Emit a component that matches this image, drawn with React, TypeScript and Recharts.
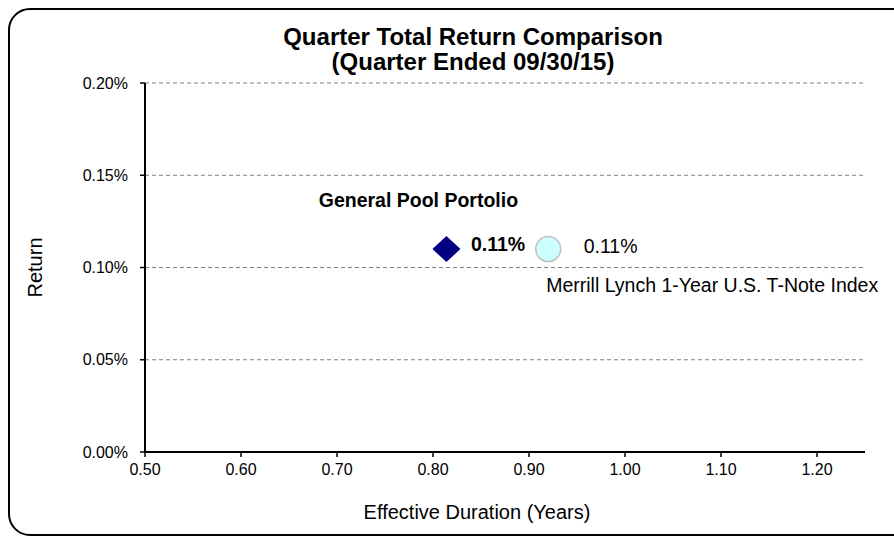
import React from "react"
import {
  ScatterChart,
  Scatter,
  XAxis,
  YAxis,
  CartesianGrid,
  Label,
} from "recharts"

// effective duration (years) / quarter return (%)
const portfolioPoint = [{ duration: 0.814, ret: 0.11 }]
const indexPoint = [{ duration: 0.92, ret: 0.11 }]

const portfolioName = "General Pool Portolio"
const indexName = "Merrill Lynch 1-Year U.S. T-Note Index"

const xTicks = [0.5, 0.6, 0.7, 0.8, 0.9, 1.0, 1.1, 1.2]
const yTicks = [0, 0.05, 0.1, 0.15, 0.2]

const font = "'Liberation Sans', Arial, sans-serif"
const labelSize = 19.5

const DiamondShape = (props: any) => {
  const { cx, cy, payload } = props
  const rx = 14
  const ry = 13
  return (
    <g>
      <polygon
        points={`${cx},${cy - ry} ${cx + rx},${cy} ${cx},${cy + ry} ${cx - rx},${cy}`}
        fill="#000080"
      />
      <text
        x={cx - 28}
        y={cy - 47}
        textAnchor="middle"
        dominantBaseline="middle"
        fontFamily={font}
        fontSize={labelSize}
        fontWeight="bold"
        fill="#000"
      >
        {portfolioName}
      </text>
      <text
        x={cx + 24.5}
        y={cy - 3.5}
        dominantBaseline="middle"
        fontFamily={font}
        fontSize={labelSize}
        fontWeight="bold"
        fill="#000"
      >
        {payload.ret.toFixed(2)}%
      </text>
    </g>
  )
}

const CircleShape = (props: any) => {
  const { cx, cy, payload } = props
  return (
    <g>
      <circle cx={cx} cy={cy} r={12.5} fill="#CCFFFF" stroke="#C0C0C0" strokeWidth={1.5} />
      <text
        x={cx + 35.5}
        y={cy - 1}
        dominantBaseline="middle"
        fontFamily={font}
        fontSize={labelSize}
        fill="#000"
      >
        {payload.ret.toFixed(2)}%
      </text>
      <text
        x={cx - 2}
        y={cy + 38}
        dominantBaseline="middle"
        fontFamily={font}
        fontSize={labelSize}
        fill="#000"
      >
        {indexName}
      </text>
    </g>
  )
}

export default function App() {
  return (
    <div
      style={{
        position: "absolute",
        left: 0,
        top: 0,
        width: 894,
        height: 537,
        overflow: "hidden",
        background: "#fff",
        fontFamily: font,
      }}
    >
      <div
        style={{
          position: "absolute",
          left: 8,
          top: 8,
          width: 910,
          height: 524,
          border: "2px solid #000",
          borderRadius: 22,
        }}
      />
      <div
        style={{
          position: "absolute",
          left: 0,
          width: 946,
          top: 24,
          textAlign: "center",
          fontWeight: "bold",
          fontSize: 24,
          lineHeight: "25px",
        }}
      >
        Quarter Total Return Comparison
        <br />
        (Quarter Ended 09/30/15)
      </div>
      <div style={{ position: "absolute", left: 0, top: 0 }}>
        <ScatterChart
          width={894}
          height={537}
          margin={{ top: 83, right: 29, left: 25, bottom: 10 }}
        >
          <CartesianGrid
            horizontal
            vertical={false}
            stroke="#808080"
            strokeDasharray="4 3"
          />
          <XAxis
            type="number"
            dataKey="duration"
            domain={[0.5, 1.25]}
            ticks={xTicks}
            height={75}
            tickFormatter={(v: number) => v.toFixed(2)}
            tick={{ fill: "#000", fontSize: 16, fontFamily: font }}
            axisLine={{ stroke: "#000", strokeWidth: 2 }}
            tickLine={{ stroke: "#000", strokeWidth: 1.5 }}
            tickSize={5}
            tickMargin={7}
          >
            <Label
              value="Effective Duration (Years)"
              position="insideBottom"
              offset={8}
              dx={-28}
              style={{ fill: "#000", fontSize: 20, fontFamily: font }}
            />
          </XAxis>
          <YAxis
            type="number"
            dataKey="ret"
            domain={[0, 0.2]}
            ticks={yTicks}
            width={120}
            tickFormatter={(v: number) => `${v.toFixed(2)}%`}
            tick={{ fill: "#000", fontSize: 16, fontFamily: font }}
            axisLine={{ stroke: "#000", strokeWidth: 2 }}
            tickLine={{ stroke: "#000", strokeWidth: 1.5 }}
            tickSize={5}
            tickMargin={12}
          >
            <Label
              value="Return"
              angle={-90}
              position="insideLeft"
              offset={10}
              style={{ fill: "#000", fontSize: 20, fontFamily: font, textAnchor: "middle" }}
            />
          </YAxis>
          <Scatter
            name={portfolioName}
            data={portfolioPoint}
            shape={DiamondShape}
            isAnimationActive={false}
          />
          <Scatter
            name={indexName}
            data={indexPoint}
            shape={CircleShape}
            isAnimationActive={false}
          />
        </ScatterChart>
      </div>
    </div>
  )
}
